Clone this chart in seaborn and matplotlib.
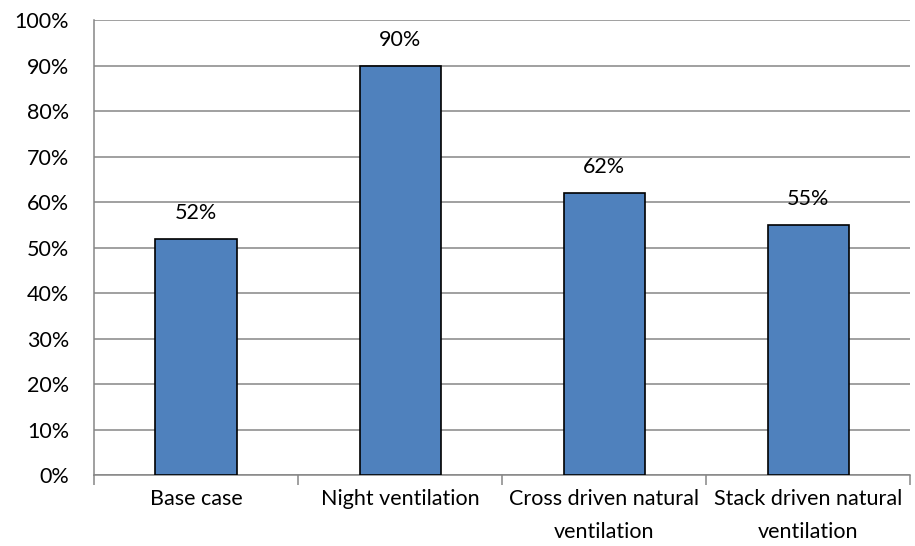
import matplotlib
matplotlib.use("Agg")
import matplotlib.pyplot as plt
import seaborn as sns
import pandas as pd
from matplotlib.ticker import FixedLocator, PercentFormatter

# data
categories = ["Base case", "Night ventilation",
              "Cross driven natural\nventilation", "Stack driven natural\nventilation"]
values = [52, 90, 62, 55]

df = pd.DataFrame({"case": categories, "share": values})

sns.set_style("white")
plt.rcParams["font.family"] = ["Lato", "DejaVu Sans"]
plt.rcParams["font.size"] = 15.5
plt.rcParams["text.color"] = "black"

fig = plt.figure(figsize=(9.15, 5.46), dpi=100)
ax = fig.add_axes([0.103, 0.130, 0.892, 0.833])

sns.barplot(data=df, x="case", y="share", color="#4F81BD", edgecolor="black",
            linewidth=1.2, width=0.4, saturation=1, ax=ax, zorder=3)

# data labels
for i, v in enumerate(values):
    ax.text(i, v + 3.5, f"{v}%", ha="center", va="bottom", fontsize=15.5, color="black")

ax.set_ylim(0, 100)
ax.set_xlim(-0.5, len(categories) - 0.5)
ax.set_yticks(range(0, 101, 10))
ax.yaxis.set_major_formatter(PercentFormatter(decimals=0))
ax.yaxis.grid(True, color="#868686", linewidth=1.1, zorder=0)
ax.set_axisbelow(True)

# tick marks between categories, labels at centres
ax.xaxis.set_major_locator(FixedLocator([i - 0.5 for i in range(len(categories) + 1)]))
ax.xaxis.set_minor_locator(FixedLocator(range(len(categories))))
ax.set_xticklabels([], minor=False)
ax.set_xticklabels(categories, minor=True, linespacing=1.8)
ax.tick_params(axis="x", which="major", length=7, width=1.1, color="#868686", direction="out", bottom=True)
ax.tick_params(axis="x", which="minor", length=0, pad=10, labelsize=15.5, labelcolor="black")
ax.tick_params(axis="y", length=0, pad=18, labelsize=15.5, labelcolor="black")

for side in ["top", "right"]:
    ax.spines[side].set_visible(False)
for side in ["left", "bottom"]:
    ax.spines[side].set_color("#868686")
    ax.spines[side].set_linewidth(1.1)

ax.set_xlabel("")
ax.set_ylabel("")

fig.savefig("out.png", dpi=100)
